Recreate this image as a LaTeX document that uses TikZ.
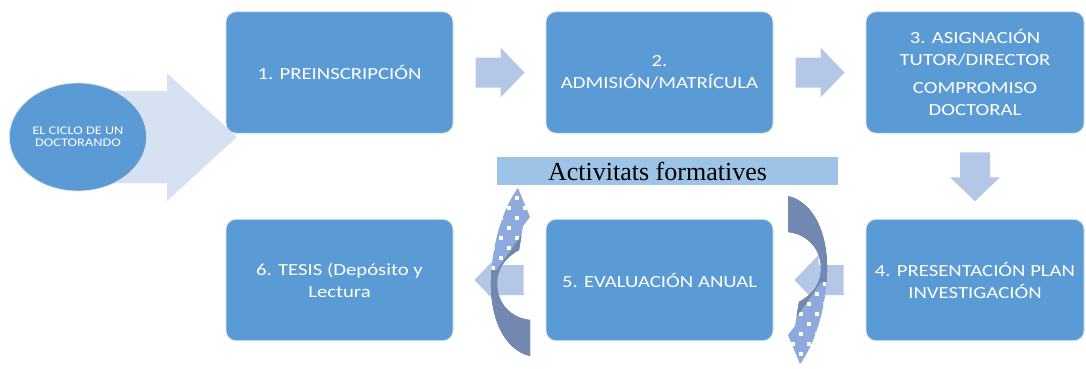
\documentclass[tikz,border=0pt]{standalone}
\usepackage{fontspec}
\setmainfont{Liberation Serif}
\newfontfamily\boxfont[FakeStretch=1.22]{Carlito}
\usetikzlibrary{calc,shapes.geometric}
\definecolor{boxblue}{HTML}{5B9BD5}
\definecolor{bigarr}{HTML}{D6E2F2}
\definecolor{smallarr}{HTML}{B4C7E7}
\definecolor{bannerblue}{HTML}{9DC3E6}
\definecolor{curvdark}{HTML}{7388B0}
\definecolor{curvlight}{HTML}{8EA9DB}
\definecolor{edgegray}{HTML}{D9DEE6}
\begin{document}
\begin{tikzpicture}[x=0.75pt,y=-0.75pt,
  stage/.style={rectangle, rounded corners=7.5pt, fill=boxblue, draw=edgegray, line width=0.6pt,
    minimum width=170.25pt, minimum height=91pt, align=center, text=white,
    font=\boxfont\fontsize{12.75}{16.5}\selectfont, inner sep=0pt},
  blockarr/.style={fill=smallarr},
  curvshape/.style={insert path={(530,356) .. controls (505,350) and (490,320) .. (491,280)
      .. controls (492,240) and (505,205) .. (518,188) -- (530,217) -- (523,226) -- (519,250)
      .. controls (505,258) and (497,268) .. (497,285)
      .. controls (498,305) and (512,318) .. (530,320) -- cycle}},
  curvarrow/.pic={
    \fill[curvlight, curvshape];
    \begin{scope}
      \clip[curvshape];
      \fill[curvdark] (470,372) -- (470,270) -- (497,270) -- (521,236) -- (545,236) -- (545,372) -- cycle;
      \foreach \r in {0,...,7}{
        \foreach \c in {0,...,4}{
          \pgfmathsetmacro{\xx}{483+16*\c+8*mod(\r,2)}
          \pgfmathsetmacro{\yy}{196+10*\r}
          \fill[white] (\xx,\yy) rectangle ++(4.2,4.2);
        }
      }
      \fill[curvdark] (470,372) -- (470,270) -- (497,270) -- (521,236) -- (545,236) -- (545,372) -- cycle;
    \end{scope}
  }
]
\useasboundingbox (0,0) rectangle (1086,368);

% big arrow behind the ellipse
\coordinate (c0) at (78,137);
\fill[bigarr, shift={(c0)}] (12,-46) -- (89,-46) -- (89,-64) -- (159,0) -- (89,64) -- (89,46) -- (12,46) -- cycle;

\node[ellipse, fill=boxblue, draw=edgegray, line width=0.6pt, minimum width=103pt, minimum height=81pt,
  text=white, font=\boxfont\fontsize{8.8}{9}\selectfont, align=center, inner sep=0pt] (ell) at (c0)
  {EL CICLO DE UN\\DOCTORANDO};

% stages
\node[stage] (b1) at (339.5,72.5) {1. PREINSCRIPCIÓN};
\node[stage] (b2) at (659.5,72.5) {2.\\ADMISIÓN/MATRÍCULA};
\node[stage, minimum width=163.5pt] (b3) at (975,72.5) {3. ASIGNACIÓN\\TUTOR/DIRECTOR\\[4pt]COMPROMISO\\DOCTORAL};
\node[stage, minimum width=163.5pt] (b4) at (975,280) {4. PRESENTACIÓN PLAN\\INVESTIGACIÓN};
\node[stage] (b5) at (659.5,280) {5. EVALUACIÓN ANUAL};
\node[stage] (b6) at (339.5,280) {6. TESIS (Depósito y\\Lectura};

% block arrows between stages
\coordinate (m12) at ($(b1.east)!0.5!(b2.west)$);
\coordinate (m23) at ($(b2.east)!0.5!(b3.west)$);
\coordinate (m34) at ($(b3.south)!0.5!(b4.north)$);
\coordinate (m45) at ($(b5.east)!0.5!(b4.west)$);
\coordinate (m56) at ($(b6.east)!0.5!(b5.west)$);
\foreach \m/\ang in {m12/0, m23/0, m34/-90, m45/180, m56/180}{
  \fill[blockarr, shift={(\m)}, rotate=\ang] (-24,-15) -- (1,-15) -- (1,-25) -- (25,0) -- (1,25) -- (1,15) -- (-24,15) -- cycle;
}

% banner
\node[fill=bannerblue, minimum width=255.75pt, minimum height=21pt, inner sep=0pt] (ban) at (667.5,171) {};
\node[font=\fontsize{19.5}{20}\selectfont, inner sep=0pt] (bant) at ($(ban.center)+(-10,0)$) {Activitats formatives};

% curved arrows
\pic (cl) at (0,0) {curvarrow};
\pic[rotate=180] (cr) at (1318,552) {curvarrow};
\end{tikzpicture}
\end{document}
